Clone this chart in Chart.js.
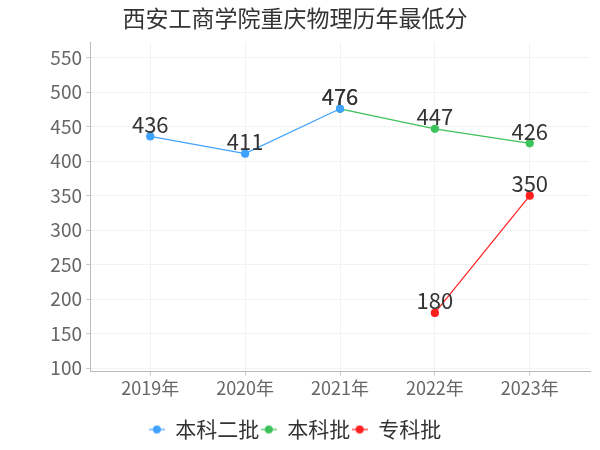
<!DOCTYPE html>
<html><head><meta charset="utf-8">
<script src="https://cdn.jsdelivr.net/npm/chart.js@4"></script>
<style>html,body{margin:0;padding:0;background:#fff}#wrap{width:600px;height:450px}</style>
</head><body><div id="wrap"><canvas id="c"></canvas></div>
<script>
const title = '西安工商学院重庆物理历年最低分';
const years = ['2019年','2020年','2021年','2022年','2023年'];
const seriesNames = ['本科二批','本科批','专科批'];
const benke2 = [436, 411, 476, null, null];
const benke = [null, null, 476, 447, 426];
const zhuanke = [null, null, null, 180, 350];
const yTicks = [100,150,200,250,300,350,400,450,500,550];
const colors = ['#3fa2ff','#3cc25a','#ff1f1f'];

const FONT = '"Noto Sans CJK SC", "Noto Sans", sans-serif';
function legendIcon(col){
  const c = document.createElement('canvas'); c.width=16; c.height=10;
  const g = c.getContext('2d');
  g.strokeStyle=col; g.globalAlpha=0.6; g.lineWidth=2;
  g.beginPath(); g.moveTo(0,5); g.lineTo(16,5); g.stroke();
  g.globalAlpha=1; g.fillStyle=col; g.beginPath(); g.arc(8,5,4,0,Math.PI*2); g.fill();
  return c;
}
const toPts = arr => arr.map((v,i)=>({x:i,y:v}));
const all = [benke2, benke, zhuanke];
const datasets = all.map((arr,k)=>({
  label: seriesNames[k], data: toPts(arr), borderColor: colors[k], backgroundColor: colors[k],
  borderWidth: 1.2, pointRadius: 3.5, pointHoverRadius: 3.5, spanGaps:false, tension:0,
  pointStyle:'circle'
}));

const valueLabels = {
  id:'valueLabels',
  afterDatasetsDraw(chart){
    const ctx = chart.ctx; ctx.save();
    ctx.font = '22px ' + FONT; ctx.fillStyle='#333'; ctx.textAlign='center'; ctx.textBaseline='bottom';
    chart.data.datasets.forEach((ds,di)=>{
      const meta = chart.getDatasetMeta(di);
      meta.data.forEach((pt,i)=>{
        const v = ds.data[i].y; if (v==null) return;
        ctx.fillText(String(v), pt.x, pt.y - 1);
      });
    });
    ctx.restore();
  }
};

new Chart(document.getElementById('c'), {
  type:'line',
  data:{ datasets },
  plugins:[valueLabels],
  options:{
    responsive:true, maintainAspectRatio:false, animation:false,
    layout:{ padding:{ left:0, right:10, top:0, bottom:0 } },
    plugins:{
      tooltip:{enabled:false},
      title:{ display:true, text:title, color:'#333', font:{family:FONT, size:23, weight:'normal'}, padding:{top:4,bottom:11} },
      legend:{ position:'bottom', labels:{ color:'#333', font:{family:FONT,size:21}, pointStyleWidth:16, padding:1.4,
        generateLabels(chart){
          return chart.data.datasets.map((ds,i)=>({ text: ds.label, pointStyle: legendIcon(colors[i]), fillStyle: colors[i], strokeStyle: colors[i], lineWidth:0, datasetIndex:i, hidden:false, fontColor:'#333' }));
        }, usePointStyle:true } }
    },
    scales:{
      x:{ type:'linear', min:-0.635, max:4.635,
        afterBuildTicks(s){ s.ticks = years.map((_,i)=>({value:i})); },
        afterFit(s){ s.height = 46; },
        ticks:{ callback:(v)=>years[v] ?? '', color:'#666', font:{family:FONT,size:18}, maxRotation:0, padding:2 },
        grid:{ color:'#f2f2f2', drawTicks:true, tickLength:4, tickColor:'#ccc' },
        border:{ color:'#bbb' } },
      y:{ min:95, max:572,
        afterBuildTicks(s){ s.ticks = yTicks.map(v=>({value:v})); },
        afterFit(s){ s.width = 90; },
        ticks:{ color:'#666', font:{family:FONT,size:19}, padding:4 },
        grid:{ color:'#f2f2f2', tickLength:4, tickColor:'#ccc' },
        border:{ color:'#bbb' } }
    }
  }
});
</script></body></html>
